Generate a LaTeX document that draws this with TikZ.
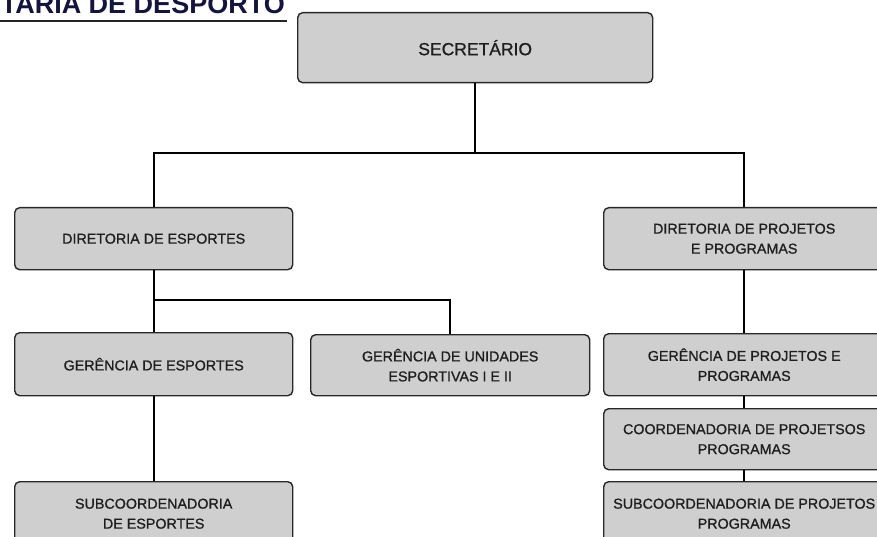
\documentclass[tikz,border=0pt]{standalone}
\usepackage{fontspec}
\setmainfont{Liberation Sans}
\newfontfamily\boxfont[FakeBold=0.9]{Liberation Sans}
\definecolor{boxfill}{RGB}{207,207,207}
\definecolor{boxline}{RGB}{40,40,40}
\definecolor{txt}{RGB}{30,30,30}
\definecolor{navy}{RGB}{20,20,60}
\begin{document}
\begin{tikzpicture}[x=1pt,y=-1pt,
  box/.style={draw=boxline, line width=1.4pt, fill=boxfill, rounded corners=5pt,
    anchor=north west, align=center, text=txt, inner sep=2pt,
    font=\boxfont\fontsize{14.3}{20}\selectfont},
  conn/.style={draw=black, line width=2.2pt}]
\useasboundingbox (0,0) rectangle (877,537);
% title
\node[anchor=base east, inner sep=0pt, text=navy, font=\bfseries\fontsize{27}{30}\selectfont] (title) at (285,14) {TARIA DE DESPORTO};
\draw[line width=2pt, color=black!85] (0,21) -- (287,21);
% boxes
\node[box, minimum width=355pt, minimum height=70pt, font=\boxfont\fontsize{17.5}{20}\selectfont] (sec) at (297,12) {SECRETÁRIO};
\node[box, minimum width=278pt, minimum height=62pt] (dE) at (14,207) {DIRETORIA DE ESPORTES};
\node[box, minimum width=281pt, minimum height=62pt] (dP) at (603,207) {DIRETORIA DE PROJETOS\\E PROGRAMAS};
\node[box, minimum width=278pt, minimum height=63pt] (gE) at (14,332) {GERÊNCIA DE ESPORTES};
\node[box, minimum width=279pt, minimum height=61pt] (gU) at (310,334) {GERÊNCIA DE UNIDADES\\ESPORTIVAS I E II};
\node[box, minimum width=281pt, minimum height=62pt] (gP) at (603,333) {GERÊNCIA DE PROJETOS E\\PROGRAMAS};
\node[box, minimum width=281pt, minimum height=61pt] (cP) at (603,408) {COORDENADORIA DE PROJETSOS\\PROGRAMAS};
\node[box, minimum width=278pt, minimum height=64pt] (sE) at (14,481) {SUBCOORDENADORIA\\DE ESPORTES};
\node[box, minimum width=281pt, minimum height=64pt] (sP) at (603,481) {SUBCOORDENADORIA DE PROJETOS\\PROGRAMAS};
% connectors
\coordinate (j1) at (sec.south |- 0,153);
\coordinate (j2) at (dE.south |- 0,300);
\draw[conn] (sec) -- (j1);
\draw[conn] (dE) |- (j1) -| (dP);
\draw[conn] (dE) -- (gE);
\draw[conn] (j2) -| (gU);
\draw[conn] (gE) -- (sE);
\draw[conn] (dP) -- (gP);
\draw[conn] (gP) -- (cP);
\draw[conn] (cP) -- (sP);
\end{tikzpicture}
\end{document}
